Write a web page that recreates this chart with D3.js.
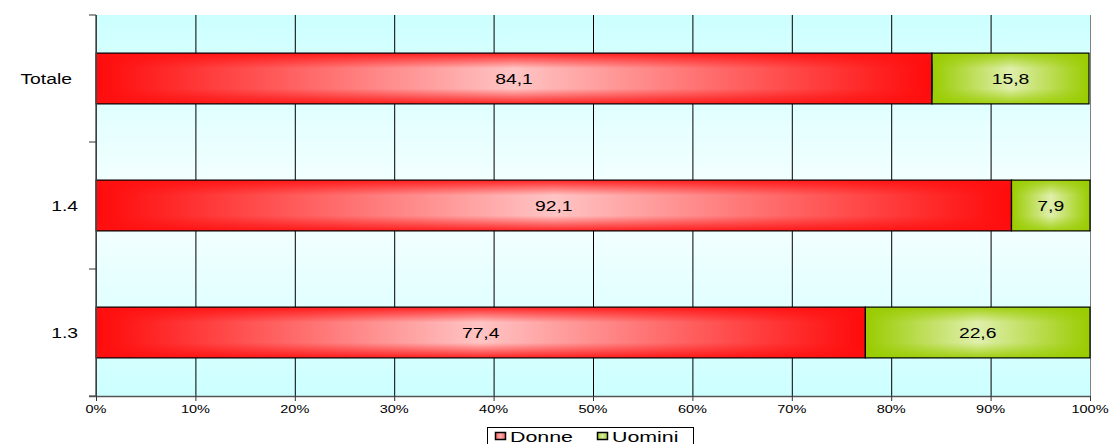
<!DOCTYPE html>
<html><head><meta charset="utf-8">
<script src="https://cdn.jsdelivr.net/npm/d3@7"></script>
<style>body{margin:0;background:#fff}svg{display:block}</style>
</head><body>
<svg id="c" width="1109" height="444"></svg>
<script>
const categories = ["Totale", "1.4", "1.3"];
const donne = [84.1, 92.1, 77.4];
const uomini = [15.8, 7.9, 22.6];
const seriesNames = ["Donne", "Uomini"];
const xTicks = [0,10,20,30,40,50,60,70,80,90,100];

const svg = d3.select("#c");
const m = {l:96, r:19, t:15, b:48};
const W = 1109, H = 444;
const FONT = "Liberation Sans, Arial, sans-serif";
const SX = 1.38; // horizontal stretch of text, as in the reference
const x = d3.scaleLinear().domain([0,100]).range([m.l, W - m.r]);
const y = d3.scaleBand().domain(categories).range([m.t, H - m.b]).paddingInner(0.6).paddingOuter(0.3);
const yb = d3.scaleBand().domain(categories).range([m.t, H - m.b]);
const fmt = v => d3.format(".1f")(v).replace(".", ",");

const defs = svg.append("defs");
const bg = defs.append("linearGradient").attr("id","bg").attr("x1",0).attr("y1",0).attr("x2",0).attr("y2",1);
bg.append("stop").attr("offset","0").attr("stop-color","#ccffff");
bg.append("stop").attr("offset","0.5").attr("stop-color","#f8ffff");
bg.append("stop").attr("offset","1").attr("stop-color","#ccffff");

function hgrad(id, edge, mid){
  const g = defs.append("linearGradient").attr("id",id).attr("x1",0).attr("x2",1).attr("y1",0).attr("y2",0);
  g.append("stop").attr("offset","0").attr("stop-color",edge);
  g.append("stop").attr("offset","0.5").attr("stop-color",mid);
  g.append("stop").attr("offset","1").attr("stop-color",edge);
}
function vgrad(id, edge){
  const g = defs.append("linearGradient").attr("id",id).attr("x1",0).attr("x2",0).attr("y1",0).attr("y2",1);
  g.append("stop").attr("offset","0").attr("stop-color",edge).attr("stop-opacity",0.9);
  g.append("stop").attr("offset","0.3").attr("stop-color",edge).attr("stop-opacity",0);
  g.append("stop").attr("offset","0.7").attr("stop-color",edge).attr("stop-opacity",0);
  g.append("stop").attr("offset","1").attr("stop-color",edge).attr("stop-opacity",0.9);
}
hgrad("gD","#ff0a0a","#ffc4c4");
hgrad("gU","#99cc00","#e0efac");
vgrad("vD","#ff1010");
vgrad("vU","#99cc00");
const lgD = defs.append("linearGradient").attr("id","lD").attr("x1",0).attr("x2",1);
lgD.append("stop").attr("offset",0).attr("stop-color","#ff6060");
lgD.append("stop").attr("offset",0.5).attr("stop-color","#ffb0b0");
lgD.append("stop").attr("offset",1).attr("stop-color","#ff6060");
const lgU = defs.append("linearGradient").attr("id","lU").attr("x1",0).attr("x2",1);
lgU.append("stop").attr("offset",0).attr("stop-color","#a8d030");
lgU.append("stop").attr("offset",0.5).attr("stop-color","#d8eca0");
lgU.append("stop").attr("offset",1).attr("stop-color","#a8d030");

function stext(sel, px, py, size, anchor){
  return sel.append("text")
    .attr("transform",`translate(${px},${py}) scale(${SX},1)`)
    .attr("text-anchor",anchor).attr("font-family",FONT).attr("font-size",size).attr("fill","#000");
}

// plot background
svg.append("rect").attr("x",x(0)).attr("y",m.t).attr("width",x(100)-x(0)).attr("height",H-m.b-m.t).attr("fill","url(#bg)");

// gridlines
svg.append("g").selectAll("line").data(xTicks).join("line")
  .attr("x1",d=>x(d)+0.5).attr("x2",d=>x(d)+0.5).attr("y1",m.t).attr("y2",H-m.b)
  .attr("stroke",d=>d===100?"#808080":"#000").attr("stroke-width",1);

// bars
const data = categories.map((c,i)=>({c, v:[donne[i], uomini[i]]}));
const segs = [];
data.forEach(d=>{ let s=0; d.v.forEach((v,k)=>{ segs.push({c:d.c,k,x0:s,x1:s+v,v}); s+=v; }); });
const gBars = svg.append("g");
gBars.selectAll("rect.f").data(segs).join("rect")
  .attr("x",d=>x(d.x0)).attr("y",d=>y(d.c)).attr("width",d=>x(d.x1)-x(d.x0)).attr("height",y.bandwidth())
  .attr("fill",d=>d.k===0?"url(#gD)":"url(#gU)");
gBars.selectAll("rect.o").data(segs).join("rect")
  .attr("x",d=>x(d.x0)).attr("y",d=>y(d.c)).attr("width",d=>x(d.x1)-x(d.x0)).attr("height",y.bandwidth())
  .attr("fill",d=>d.k===0?"url(#vD)":"url(#vU)")
  .attr("stroke","#000").attr("stroke-width",1.2);
segs.forEach(d=>{
  stext(gBars,(x(d.x0)+x(d.x1))/2, y(d.c)+y.bandwidth()/2+5.5, 14, "middle").text(fmt(d.v));
});

// y axis
const ay = svg.append("g");
ay.append("line").attr("x1",x(0)).attr("x2",x(0)).attr("y1",m.t).attr("y2",H-m.b+1).attr("stroke","#555").attr("stroke-width",1.5);
const yTickPos = [m.t].concat(categories.map(c=>yb(c)+yb.bandwidth()));
ay.selectAll("line.t").data(yTickPos).join("line").attr("class","t")
  .attr("x1",x(0)-7).attr("x2",x(0)).attr("y1",d=>d).attr("y2",d=>d).attr("stroke","#333").attr("stroke-width",1);
categories.forEach((c,i)=>{
  stext(ay, i===0?72:78, yb(c)+yb.bandwidth()/2+5, 14, "end").text(c);
});

// x axis
const ax = svg.append("g");
ax.append("line").attr("x1",x(0)-7).attr("x2",x(100)).attr("y1",H-m.b+0.5).attr("y2",H-m.b+0.5).attr("stroke","#555").attr("stroke-width",1.5);
ax.selectAll("line.t").data(xTicks).join("line").attr("class","t")
  .attr("x1",d=>x(d)+0.5).attr("x2",d=>x(d)+0.5).attr("y1",H-m.b).attr("y2",H-m.b+5).attr("stroke","#333");
xTicks.forEach(t=>{
  stext(ax, x(t), H-m.b+17, 10.5, "middle").text(t+"%");
});

// legend
const lg = svg.append("g");
lg.append("rect").attr("x",487.5).attr("y",427.5).attr("width",206).attr("height",20).attr("fill","#fff").attr("stroke","#000");
const lItems = [{n:seriesNames[0], f:"url(#lD)", x:495},{n:seriesNames[1], f:"url(#lU)", x:597}];
lItems.forEach(it=>{
  lg.append("rect").attr("x",it.x+0.5).attr("y",432.5).attr("width",10).attr("height",7).attr("fill",it.f).attr("stroke","#000").attr("stroke-width",1.5);
  stext(lg, it.x+15, 442, 15.5, "start").text(it.n);
});
</script>
</body></html>
